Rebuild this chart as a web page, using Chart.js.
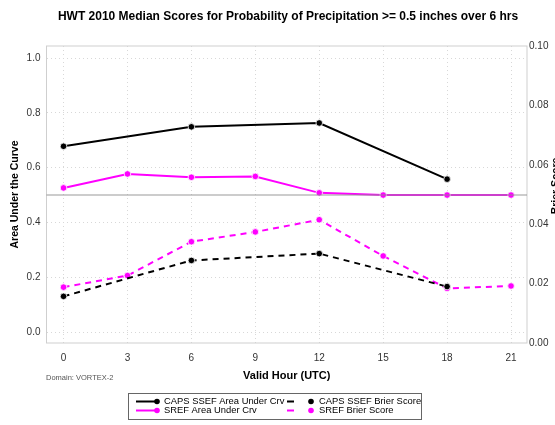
<!DOCTYPE html>
<html>
<head>
<meta charset="utf-8">
<script src="https://cdn.jsdelivr.net/npm/chart.js@4/dist/chart.umd.min.js"></script>
<style>
  html, body { margin: 0; padding: 0; background: #fff; }
  #wrap { width: 555px; height: 425px; }
</style>
</head>
<body>
<div id="wrap"><canvas id="c" width="555" height="425"></canvas></div>
<script>
// ---- data ----
const hours = [0, 3, 6, 9, 12, 15, 18, 21];
const capsAuc   = [0.678, null, 0.749, null, 0.763, null, 0.558, null];
const srefAuc   = [0.526, 0.577, 0.565, 0.568, 0.508, 0.500, 0.500, 0.500];
const capsBrier = [0.0157, null, 0.0278, null, 0.0301, null, 0.0190, null];
const srefBrier = [0.0188, 0.0227, 0.0341, 0.0374, 0.0415, 0.0293, 0.0184, 0.0192];
const xTicks = [0, 3, 6, 9, 12, 15, 18, 21];
const aucTicks = [0.0, 0.2, 0.4, 0.6, 0.8, 1.0];
const brierTicks = [0.00, 0.02, 0.04, 0.06, 0.08, 0.10];
const refAuc = 0.5;
const titleText = "HWT 2010 Median Scores for Probability of Precipitation >= 0.5 inches over 6 hrs";
const seriesNames = ["CAPS SSEF Area Under Crv", "SREF Area Under Crv", "CAPS SSEF Brier Score", "SREF Brier Score"];

const FONT = "'Liberation Sans', Arial, Helvetica, sans-serif";
const MAG = '#ff00ff';

function pts(arr) {
  return hours.map((h, i) => ({ x: h, y: arr[i] }));
}

const datasets = [
  { label: seriesNames[0], data: pts(capsAuc), yAxisID: 'yL', borderColor: '#000', backgroundColor: '#000', borderDash: [] },
  { label: seriesNames[1], data: pts(srefAuc), yAxisID: 'yL', borderColor: MAG, backgroundColor: MAG, borderDash: [] },
  { label: seriesNames[2], data: pts(capsBrier), yAxisID: 'yR', borderColor: '#000', backgroundColor: '#000', borderDash: [6, 5] },
  { label: seriesNames[3], data: pts(srefBrier), yAxisID: 'yR', borderColor: MAG, backgroundColor: MAG, borderDash: [6, 5] }
].map(d => Object.assign(d, {
  borderWidth: 2, pointRadius: 3.3, pointHoverRadius: 3.3, pointBorderColor: '#fff',
  pointBorderWidth: 0.8, tension: 0, spanGaps: true, showLine: true
}));

const extras = {
  id: 'extras',
  beforeDatasetsDraw(chart) {
    const { ctx, chartArea: a } = chart;
    ctx.save();
    ctx.strokeStyle = '#cfcfcf';
    ctx.lineWidth = 1;
    ctx.strokeRect(a.left, a.top, a.right - a.left, a.bottom - a.top);
    ctx.restore();
  },
  afterDatasetsDraw(chart) {
    const { ctx, chartArea: a } = chart;
    const y = chart.scales.yL.getPixelForValue(refAuc);
    ctx.save();
    ctx.strokeStyle = 'rgba(140,140,140,0.6)';
    ctx.lineWidth = 1.5;
    ctx.beginPath();
    ctx.moveTo(a.left, y);
    ctx.lineTo(a.right, y);
    ctx.stroke();
    ctx.restore();
  },
  afterDraw(chart) {
    const { ctx, chartArea: a } = chart;
    ctx.save();
    ctx.fillStyle = '#000';
    // title
    ctx.font = 'bold 12px ' + FONT;
    ctx.textAlign = 'center';
    ctx.textBaseline = 'middle';
    ctx.fillText(titleText, 288, 17);
    // x title
    ctx.font = 'bold 11px ' + FONT;
    ctx.fillText('Valid Hour (UTC)', (a.left + a.right) / 2, 376);
    // left y title
    ctx.save();
    ctx.translate(15, (a.top + a.bottom) / 2);
    ctx.rotate(-Math.PI / 2);
    ctx.font = 'bold 10.5px ' + FONT;
    ctx.fillText('Area Under the Curve', 0, 0);
    ctx.restore();
    // right y title (clipped at edge)
    ctx.save();
    ctx.translate(556, 186);
    ctx.rotate(-Math.PI / 2);
    ctx.font = 'bold 10.5px ' + FONT;
    ctx.textBaseline = 'middle';
    ctx.fillText('Brier Score', 0, 0);
    ctx.restore();
    // domain note
    ctx.font = '7.5px ' + FONT;
    ctx.fillStyle = '#555';
    ctx.textAlign = 'left';
    ctx.fillText('Domain: VORTEX-2', 46, 378);
    // legend
    const bx = 128, by = 393, bw = 293, bh = 26;
    ctx.strokeStyle = '#666';
    ctx.lineWidth = 1;
    ctx.strokeRect(bx + 0.5, by + 0.5, bw, bh);
    const rows = [401.5, 410.5];
    const cols = [{ lx0: 136, lx1: 157, tx: 164 }, { lx0: 287, lx1: 311, tx: 319 }];
    const order = [[0, 0, 0], [1, 0, 1], [2, 1, 0], [3, 1, 1]];
    ctx.font = '9.4px ' + FONT;
    ctx.textBaseline = 'middle';
    order.forEach(([di, ci, ri]) => {
      const d = datasets[di];
      const c = cols[ci], y = rows[ri];
      ctx.strokeStyle = d.borderColor;
      ctx.lineWidth = 2;
      ctx.setLineDash(d.borderDash.length ? [7, 30] : []);
      ctx.beginPath();
      ctx.moveTo(c.lx0, y);
      ctx.lineTo(c.lx1, y);
      ctx.stroke();
      ctx.setLineDash([]);
      ctx.fillStyle = d.borderColor;
      ctx.beginPath();
      ctx.arc(c.lx1, y, 2.8, 0, Math.PI * 2);
      ctx.fill();
      ctx.fillStyle = '#000';
      ctx.fillText(d.label, c.tx, y);
    });
    ctx.restore();
  }
};

const gridOpts = { color: '#d8d8d8', lineWidth: 1, drawTicks: false };

new Chart(document.getElementById('c'), {
  type: 'line',
  data: { datasets },
  plugins: [extras],
  options: {
    responsive: false,
    animation: false,
    events: [],
    layout: { padding: { top: 46, left: 0, right: 0, bottom: 0 } },
    plugins: { legend: { display: false }, title: { display: false }, tooltip: { enabled: false } },
    scales: {
      x: {
        type: 'linear', min: -0.8, max: 21.75,
        afterBuildTicks: s => { s.ticks = xTicks.map(v => ({ value: v })); },
        afterFit: s => { s.height = 82; },
        grid: Object.assign({}, gridOpts),
        border: { display: false, dash: [1, 3] },
        ticks: { padding: 9, color: '#333', font: { family: FONT, size: 10 }, maxRotation: 0, callback: v => String(v) }
      },
      yL: {
        type: 'linear', position: 'left', min: -0.04, max: 1.044,
        afterBuildTicks: s => { s.ticks = aucTicks.map(v => ({ value: v })); },
        afterFit: s => { s.width = 46.5; },
        grid: Object.assign({}, gridOpts),
        border: { display: false, dash: [1, 3] },
        ticks: { padding: 6, color: '#333', font: { family: FONT, size: 10 }, callback: v => v.toFixed(1) }
      },
      yR: {
        type: 'linear', position: 'right', min: 0, max: 0.1,
        afterBuildTicks: s => { s.ticks = brierTicks.map(v => ({ value: v })); },
        afterFit: s => { s.width = 28; },
        grid: { display: false, drawTicks: false },
        border: { display: false },
        ticks: { padding: 2, color: '#333', font: { family: FONT, size: 10 }, callback: v => v.toFixed(2) }
      }
    }
  }
});
</script>
</body>
</html>
